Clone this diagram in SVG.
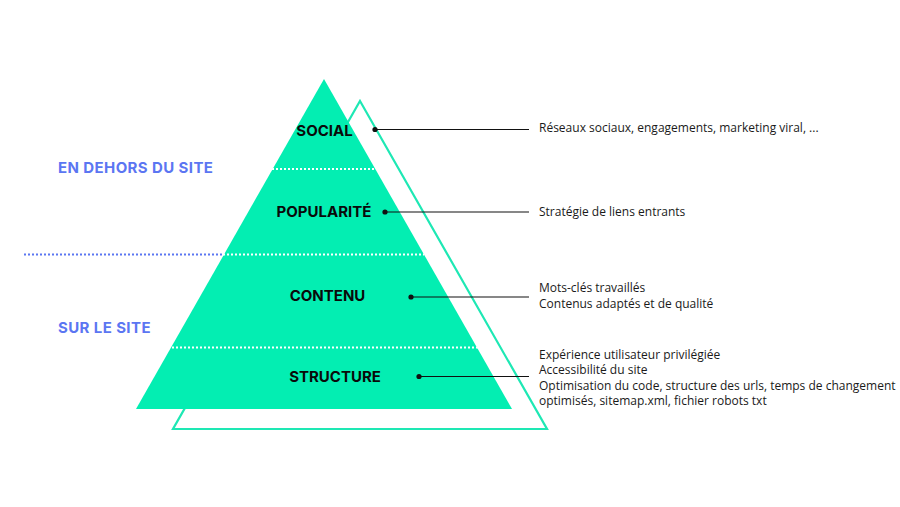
<svg xmlns="http://www.w3.org/2000/svg" width="900" height="507" viewBox="0 0 900 507">
<style>
.lvl{font-family:Inter,"Noto Sans",sans-serif;font-weight:700;font-size:15px;fill:#0a0a0a;text-anchor:middle}
.side{font-family:Inter,"Noto Sans",sans-serif;font-weight:700;font-size:15px;letter-spacing:0.4px;fill:#5b76f2}
.desc{font-family:"Open Sans","Noto Sans",sans-serif;font-size:12px;fill:#1a1a1a}
.wdot{stroke:#ffffff;stroke-width:2;stroke-dasharray:2 2;fill:none}
.bdot{stroke:#5b76f2;stroke-width:2;stroke-dasharray:2 2;fill:none}
.lead{stroke:#111;stroke-width:1.2;fill:none}
.pt{fill:#111}
</style>
<rect width="900" height="507" fill="#ffffff"/>
<g id="pyramid">
<polygon points="360,101 547,429 173,429" fill="none" stroke="#1ee8b4" stroke-width="2.2"/>
<polygon points="324,79 512,409 136,409" fill="#03eeb2"/>
<line class="wdot" x1="272" y1="169" x2="375" y2="169"/>
<line class="wdot" x1="223" y1="254.5" x2="424" y2="254.5"/>
<line class="wdot" x1="172" y1="347.5" x2="478" y2="347.5"/>
<line class="bdot" x1="24" y1="254.5" x2="222" y2="254.5"/>
</g>
<g id="labels-side">
<text class="side" x="58" y="173">EN DEHORS DU SITE</text>
<text class="side" x="58" y="333">SUR LE SITE</text>
</g>
<g id="node-social"><text class="lvl" x="324.5" y="136">SOCIAL</text></g>
<g id="node-popularite"><text class="lvl" x="324" y="217">POPULARITÉ</text></g>
<g id="node-contenu"><text class="lvl" x="327.5" y="301">CONTENU</text></g>
<g id="node-structure"><text class="lvl" x="335" y="382">STRUCTURE</text></g>
<g id="connectors">
<line class="lead" x1="375" y1="129.5" x2="529" y2="129.5"/><circle class="pt" cx="375" cy="129.5" r="2.6"/>
<line class="lead" x1="385" y1="212" x2="529" y2="212"/><circle class="pt" cx="385" cy="212" r="2.6"/>
<line class="lead" x1="411" y1="297" x2="529" y2="297"/><circle class="pt" cx="411" cy="297" r="2.6"/>
<line class="lead" x1="419" y1="376.5" x2="529" y2="376.5"/><circle class="pt" cx="419" cy="376.5" r="2.6"/>
</g>
<g id="descriptions">
<text class="desc" x="539" y="132">Réseaux sociaux, engagements, marketing viral, ...</text>
<text class="desc" x="539" y="216">Stratégie de liens entrants</text>
<text class="desc" x="539" y="292">Mots-clés travaillés</text>
<text class="desc" x="539" y="307.5">Contenus adaptés et de qualité</text>
<text class="desc" x="539" y="359">Expérience utilisateur privilégiée</text>
<text class="desc" x="539" y="374.3">Accessibilité du site</text>
<text class="desc" x="539" y="389.6">Optimisation du code, structure des urls, temps de changement</text>
<text class="desc" x="539" y="405">optimisés, sitemap.xml, fichier robots txt</text>
</g>
</svg>
